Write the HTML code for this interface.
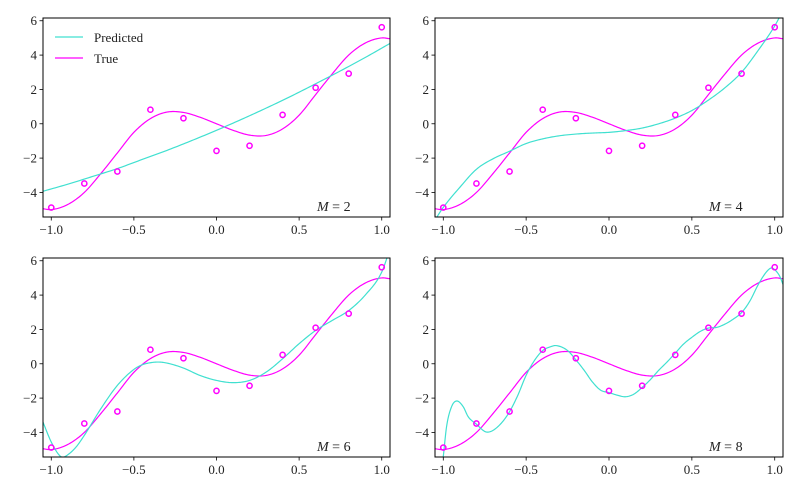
<!DOCTYPE html>
<html><head><meta charset="utf-8">
<style>
html,body{margin:0;padding:0;background:#fff;}
svg{display:block;}
text{font-family:"Liberation Serif",serif;fill:#222;}
</style></head>
<body>
<svg id="chart" width="800" height="494" viewBox="0 0 800 494" xmlns="http://www.w3.org/2000/svg"></svg>
<script>
// ---- data ----
const dataX = [-1,-0.8,-0.6,-0.4,-0.2,0,0.2,0.4,0.6,0.8,1];
const dataY = [-4.88,-3.48,-2.78,0.82,0.32,-1.58,-1.28,0.52,2.1,2.92,5.62];
const trueX = [-1.05,-1,-0.9,-0.8,-0.7,-0.6,-0.5,-0.4,-0.3,-0.2,-0.1,0,0.1,0.2,0.3,0.4,0.5,0.6,0.7,0.8,0.9,1,1.05];
const trueY = [-4.95,-5.0,-4.7,-4.0,-2.9,-1.7,-0.5,0.3,0.68,0.66,0.38,0,-0.38,-0.66,-0.68,-0.3,0.5,1.7,2.9,4.0,4.7,5.0,4.95];
const m2X = [-1.05,-0.9,-0.75,-0.6,-0.45,-0.3,-0.15,0,0.15,0.3,0.45,0.6,0.75,0.9,1.05];
const m2Y = [-3.93,-3.52,-3.07,-2.61,-2.08,-1.55,-0.98,-0.38,0.25,0.91,1.60,2.33,3.08,3.86,4.68];
const m4X = [-1.05,-1,-0.9,-0.8,-0.7,-0.6,-0.5,-0.4,-0.3,-0.2,-0.1,0,0.1,0.2,0.3,0.4,0.5,0.6,0.7,0.8,0.9,1,1.05];
const m4Y = [-5.6,-4.87,-3.7,-2.65,-2.04,-1.6,-1.15,-0.88,-0.7,-0.6,-0.54,-0.5,-0.4,-0.25,0,0.33,0.77,1.38,2.1,3.0,4.27,5.7,6.6];
const m6X = [-1.05,-1,-0.95,-0.93,-0.9,-0.85,-0.8,-0.7,-0.6,-0.5,-0.45,-0.4,-0.35,-0.3,-0.2,-0.1,0,0.1,0.2,0.3,0.4,0.5,0.6,0.7,0.8,0.9,1,1.05];
const m6Y = [-3.4,-4.56,-5.34,-5.44,-5.3,-4.85,-4.17,-2.62,-1.26,-0.33,-0.06,0.06,0.1,0.04,-0.25,-0.68,-0.97,-1.1,-0.97,-0.49,0.29,1.17,1.94,2.52,3.1,4.0,5.34,6.7];
const m8X = [-1.01,-1,-0.98,-0.95,-0.92,-0.88,-0.85,-0.8,-0.75,-0.73,-0.7,-0.65,-0.6,-0.55,-0.5,-0.45,-0.4,-0.35,-0.32,-0.25,-0.2,-0.15,-0.1,-0.05,0,0.05,0.1,0.15,0.2,0.25,0.3,0.35,0.4,0.45,0.5,0.55,0.6,0.65,0.7,0.75,0.8,0.85,0.9,0.95,0.98,1,1.03,1.05];
const m8Y = [-6.2,-5.4,-3.65,-2.5,-2.17,-2.5,-3.08,-3.52,-3.94,-3.98,-3.88,-3.46,-2.79,-1.83,-0.67,0.19,0.77,1.0,1.06,0.77,0.23,-0.38,-1.06,-1.54,-1.68,-1.83,-1.92,-1.77,-1.38,-0.92,-0.38,0.1,0.62,1.15,1.54,1.88,2.08,2.12,2.31,2.6,2.98,3.65,4.6,5.35,5.58,5.48,5.1,4.62];
const yTicks = [-4,-2,0,2,4,6];
const xTicks = [-1.0,-0.5,0.0,0.5,1.0];
const panelLabels = ["2","4","6","8"];

const NS = "http://www.w3.org/2000/svg";
const svg = document.getElementById('chart');
const XMIN=-1.05, XMAX=1.05, YMIN=-5.43, YMAX=6.16;
const panels = [
  {l:43,r:390,t:18,b:217,px:m2X,py:m2Y,name:'m2',legend:true},
  {l:435,r:783,t:18,b:217,px:m4X,py:m4Y,name:'m4'},
  {l:43,r:390,t:258,b:457,px:m6X,py:m6Y,name:'m6'},
  {l:435,r:783,t:258,b:457,px:m8X,py:m8Y,name:'m8'}
];
function el(tag, attrs, parent){ const e=document.createElementNS(NS,tag); for(const k in attrs) e.setAttribute(k,attrs[k]); (parent||svg).appendChild(e); return e; }
function fmtInt(v){ return (v<0?'\u2212':'')+Math.abs(v).toFixed(0); }

function smoothPath(xs, ys, sx, sy){
  const n=xs.length, m=[];
  for(let i=0;i<n;i++){
    if(i===0) m.push((ys[1]-ys[0])/(xs[1]-xs[0]));
    else if(i===n-1) m.push((ys[n-1]-ys[n-2])/(xs[n-1]-xs[n-2]));
    else m.push(((ys[i+1]-ys[i])/(xs[i+1]-xs[i]) + (ys[i]-ys[i-1])/(xs[i]-xs[i-1]))/2);
  }
  let d='M'+sx(xs[0]).toFixed(2)+','+sy(ys[0]).toFixed(2);
  for(let i=0;i<n-1;i++){
    const h=xs[i+1]-xs[i];
    for(let k=1;k<=12;k++){
      const t=k/12, t2=t*t, t3=t2*t;
      const y=(2*t3-3*t2+1)*ys[i]+(t3-2*t2+t)*h*m[i]+(-2*t3+3*t2)*ys[i+1]+(t3-t2)*h*m[i+1];
      d+='L'+sx(xs[i]+t*h).toFixed(2)+','+sy(y).toFixed(2);
    }
  }
  return d;
}

panels.forEach((p,idx)=>{
  const sx=v=>p.l+(v-XMIN)/(XMAX-XMIN)*(p.r-p.l);
  const sy=v=>p.b-(v-YMIN)/(YMAX-YMIN)*(p.b-p.t);
  const g=el('g',{});
  
  
  const cid='clip'+idx;
  const cp=el('clipPath',{id:cid},g);
  el('rect',{x:p.l,y:p.t,width:p.r-p.l,height:p.b-p.t},cp);
  const pl=el('g',{'clip-path':'url(#'+cid+')'},g);
  const tp=el('path',{d:smoothPath(trueX,trueY,sx,sy),fill:'none',stroke:'#ff00ff','stroke-width':1.2},pl);
  
  
  const pp=el('path',{d:smoothPath(p.px,p.py,sx,sy),fill:'none',stroke:'#40e0d0','stroke-width':1.2},pl);
  
  
  dataX.forEach((x,i)=>{
    const c=el('circle',{cx:sx(x),cy:sy(dataY[i]),r:2.6,fill:'none',stroke:'#ff00ff','stroke-width':1.5},g);
    
    
  });
  const fr=el('rect',{x:p.l,y:p.t,width:p.r-p.l,height:p.b-p.t,fill:'none',stroke:'#000','stroke-width':1},g);
  
  
  yTicks.forEach(v=>{
    const y=sy(v);
    el('line',{x1:p.l-3.5,x2:p.l,y1:y,y2:y,stroke:'#000','stroke-width':0.8},g);
    const t=el('text',{x:p.l-6,y:y+4.5,'text-anchor':'end','font-size':13},g);
    t.textContent=fmtInt(v);
    
    
  });
  xTicks.forEach(v=>{
    const x=sx(v);
    el('line',{x1:x,x2:x,y1:p.b,y2:p.b+3.5,stroke:'#000','stroke-width':0.8},g);
    const t=el('text',{x:x,y:p.b+17,'text-anchor':'middle','font-size':13},g);
    t.textContent=(v<0?'\u2212':'')+Math.abs(v).toFixed(1);
    
    
  });
  const ml=el('text',{x:p.l+274,y:p.b-6,'font-size':14},g);
  ml.innerHTML='<tspan font-style="italic">M</tspan> = '+panelLabels[idx];
  
  
  if(p.legend){
    const lg=el('g',{},g);
    
    
    el('line',{x1:p.l+12,x2:p.l+40,y1:37,y2:37,stroke:'#40e0d0','stroke-width':1.2},lg);
    const t1=el('text',{x:p.l+51,y:42,'font-size':13},lg); t1.textContent='Predicted';
    
    
    el('line',{x1:p.l+12,x2:p.l+40,y1:58,y2:58,stroke:'#ff00ff','stroke-width':1.2},lg);
    const t2=el('text',{x:p.l+51,y:63,'font-size':13},lg); t2.textContent='True';
    
    
  }
});
</script>
</body></html>
